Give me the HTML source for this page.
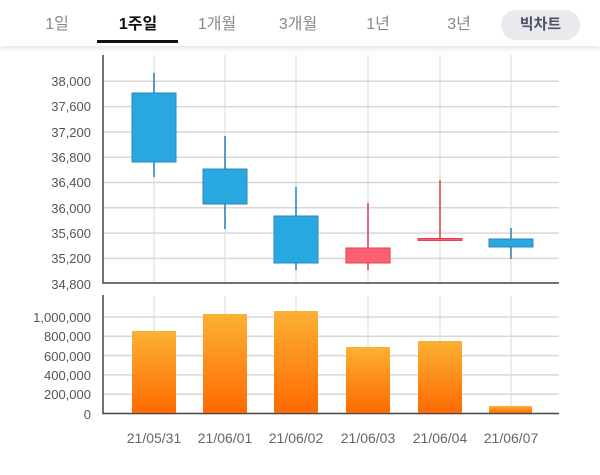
<!DOCTYPE html>
<html><head><meta charset="utf-8"><style>
body{margin:0;width:600px;height:475px;background:#fff;overflow:hidden;font-family:"Liberation Sans","Noto Sans CJK KR",sans-serif;position:relative}
.hdr{position:absolute;left:0;top:0;width:600px;height:46px;background:#fff;box-shadow:0 2px 6px rgba(0,0,0,0.12)}
.t{position:absolute;top:10px;font-size:16px;color:#888;transform:translateX(-50%);white-space:nowrap}
.pill{position:absolute;left:501px;top:10px;width:79px;height:30px;border-radius:15px;background:#e9e9ee;color:#4a5468;font-weight:bold;font-size:15px;text-align:center;line-height:30px}
</style></head><body>
<div class="hdr">
<div class="t" style="left:57px">1일</div>
<div class="t" style="left:138px;color:#111;font-weight:bold">1주일</div>
<div class="t" style="left:217px">1개월</div>
<div class="t" style="left:298px">3개월</div>
<div class="t" style="left:378px">1년</div>
<div class="t" style="left:459px">3년</div>
<div class="pill">빅차트</div>
<div style="position:absolute;left:97px;top:40px;width:81px;height:3px;background:#111"></div>
</div>
<svg width="600" height="475" style="position:absolute;left:0;top:0;z-index:-0" viewBox="0 0 600 475">
<defs><linearGradient id="g" x1="0" y1="0" x2="0" y2="1"><stop offset="0" stop-color="#fbb135"/><stop offset="1" stop-color="#ff6a00"/></linearGradient></defs>
<g stroke="#e6e6e6" stroke-width="1.5">
<line x1="154" y1="55" x2="154" y2="283"/><line x1="225" y1="55" x2="225" y2="283"/><line x1="296" y1="55" x2="296" y2="283"/><line x1="368" y1="55" x2="368" y2="283"/><line x1="440" y1="55" x2="440" y2="283"/><line x1="511" y1="55" x2="511" y2="283"/>
<line x1="154" y1="296" x2="154" y2="413"/><line x1="225" y1="296" x2="225" y2="413"/><line x1="296" y1="296" x2="296" y2="413"/><line x1="368" y1="296" x2="368" y2="413"/><line x1="440" y1="296" x2="440" y2="413"/><line x1="511" y1="296" x2="511" y2="413"/>
</g>
<g stroke="#d8d8d8" stroke-width="1.5">
<line x1="103" y1="81.3" x2="559" y2="81.3"/><line x1="103" y1="106.6" x2="559" y2="106.6"/><line x1="103" y1="131.9" x2="559" y2="131.9"/><line x1="103" y1="157.2" x2="559" y2="157.2"/><line x1="103" y1="182.5" x2="559" y2="182.5"/><line x1="103" y1="207.8" x2="559" y2="207.8"/><line x1="103" y1="233.1" x2="559" y2="233.1"/><line x1="103" y1="258.4" x2="559" y2="258.4"/>
<line x1="103" y1="317" x2="559" y2="317"/><line x1="103" y1="336.3" x2="559" y2="336.3"/><line x1="103" y1="355.6" x2="559" y2="355.6"/><line x1="103" y1="374.9" x2="559" y2="374.9"/><line x1="103" y1="394.2" x2="559" y2="394.2"/>
</g>
<g stroke="#444" stroke-width="1.5" fill="none">
<polyline points="103,55 103,283 559,283"/><polyline points="103,295 103,413.5 559,413.5"/>
</g>
<g fill="#555" font-size="13" text-anchor="end">
<text x="91" y="86">38,000</text><text x="91" y="111">37,600</text><text x="91" y="137">37,200</text><text x="91" y="162">36,800</text><text x="91" y="187">36,400</text><text x="91" y="213">36,000</text><text x="91" y="238">35,600</text><text x="91" y="263">35,200</text><text x="91" y="289">34,800</text>
<text x="91" y="322">1,000,000</text><text x="91" y="341">800,000</text><text x="91" y="361">600,000</text><text x="91" y="380">400,000</text><text x="91" y="399">200,000</text><text x="91" y="419">0</text>
</g>
<g fill="#666" font-size="14" text-anchor="middle">
<text x="154" y="443">21/05/31</text><text x="225" y="443">21/06/01</text><text x="296" y="443">21/06/02</text><text x="368" y="443">21/06/03</text><text x="440" y="443">21/06/04</text><text x="511" y="443">21/06/07</text>
</g>
<g stroke="#2a7fb8" stroke-width="1.5">
<line x1="154" y1="73" x2="154" y2="177"/><line x1="225" y1="136" x2="225" y2="229"/><line x1="296" y1="187" x2="296" y2="270"/><line x1="511" y1="228" x2="511" y2="259"/>
</g>
<g fill="#29a8e0" stroke="#2a86c0" stroke-width="1">
<rect x="132" y="93" width="44" height="69"/><rect x="203" y="169" width="44" height="35"/><rect x="274" y="216" width="44" height="47"/><rect x="489" y="239" width="44" height="8"/>
</g>
<g stroke="#d9434f" stroke-width="1.5">
<line x1="368" y1="203" x2="368" y2="270"/><line x1="440" y1="180" x2="440" y2="240"/>
</g>
<rect x="346" y="248" width="44" height="15" fill="#ff6070" stroke="#d9434f"/>
<rect x="418" y="238.5" width="44" height="2" fill="#ff6070" stroke="#d9434f"/>
<g fill="url(#g)">
<rect x="132" y="331" width="44" height="82"/><rect x="203" y="314" width="44" height="99"/><rect x="274" y="311" width="44" height="102"/><rect x="346" y="347" width="44" height="66"/><rect x="418" y="341" width="44" height="72"/><rect x="489" y="406" width="43" height="7"/>
</g>
</svg>
</body></html>
